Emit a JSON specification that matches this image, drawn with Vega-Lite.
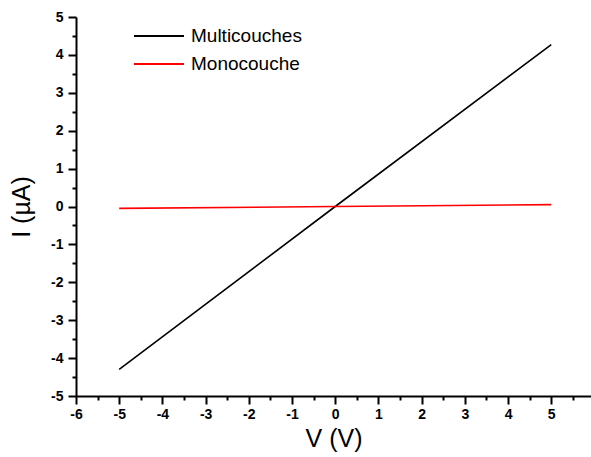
{
  "$schema": "https://vega.github.io/schema/vega-lite/v6.json",
  "width": 515,
  "height": 379,
  "autosize": {"type": "none"},
  "padding": {"left": 76, "top": 17, "right": 0, "bottom": 61},
  "background": "white",
  "config": {"view": {"stroke": null}, "font": "Liberation Sans"},
  "data": {"values": [
    {"series": "Multicouches", "V": -5, "I": -4.3},
    {"series": "Multicouches", "V": 0, "I": 0},
    {"series": "Multicouches", "V": 5, "I": 4.27},
    {"series": "Monocouche", "V": -5, "I": -0.05},
    {"series": "Monocouche", "V": 0, "I": 0},
    {"series": "Monocouche", "V": 5, "I": 0.05}
  ]},
  "mark": {"type": "line", "strokeWidth": 1.6, "clip": true},
  "encoding": {
    "x": {"field": "V", "type": "quantitative",
      "scale": {"domain": [-6, 5.92], "nice": false, "zero": false},
      "axis": {"orient": "bottom",
        "values": [-6, -5.5, -5, -4.5, -4, -3.5, -3, -2.5, -2, -1.5, -1, -0.5, 0, 0.5, 1, 1.5, 2, 2.5, 3, 3.5, 4, 4.5, 5, 5.5],
        "labelExpr": "datum.value % 1 === 0 ? toString(datum.value) : ''",
        "title": "V (V)",
        "titleFontSize": 25, "titleFontWeight": "normal", "titleColor": "black", "titlePadding": 5,
        "labelFontSize": 14, "labelFontWeight": "bold", "labelColor": "black", "labelPadding": 3,
        "labelOverlap": false, "labelFlush": false,
        "ticks": true,
        "tickSize": {"condition": {"test": "datum.value % 1 !== 0", "value": 4}, "value": 8},
        "tickWidth": 2, "tickColor": "black", "domainWidth": 2, "domainColor": "black", "grid": false}},
    "y": {"field": "I", "type": "quantitative",
      "scale": {"domain": [-5, 5], "nice": false, "zero": false},
      "axis": {"orient": "left",
        "values": [-5, -4.5, -4, -3.5, -3, -2.5, -2, -1.5, -1, -0.5, 0, 0.5, 1, 1.5, 2, 2.5, 3, 3.5, 4, 4.5, 5],
        "labelExpr": "datum.value % 1 === 0 ? toString(datum.value) : ''",
        "title": "I (µA)",
        "titleFontSize": 25, "titleFontWeight": "normal", "titleColor": "black", "titlePadding": 16,
        "labelFontSize": 14, "labelFontWeight": "bold", "labelColor": "black", "labelPadding": 5,
        "labelOverlap": false, "labelFlush": false,
        "ticks": true,
        "tickSize": {"condition": {"test": "datum.value % 1 !== 0", "value": 4}, "value": 8},
        "tickWidth": 2, "tickColor": "black", "domainWidth": 2, "domainColor": "black", "grid": false}},
    "color": {"field": "series", "type": "nominal",
      "scale": {"domain": ["Multicouches", "Monocouche"], "range": ["black", "red"]},
      "legend": {"orient": "none", "legendX": 57, "legendY": 6, "title": null,
        "symbolType": "stroke", "symbolSize": 2500, "symbolStrokeWidth": 2,
        "labelFontSize": 19, "labelColor": "black", "labelOffset": 6, "rowPadding": 2, "clipHeight": 26}}
  }
}
